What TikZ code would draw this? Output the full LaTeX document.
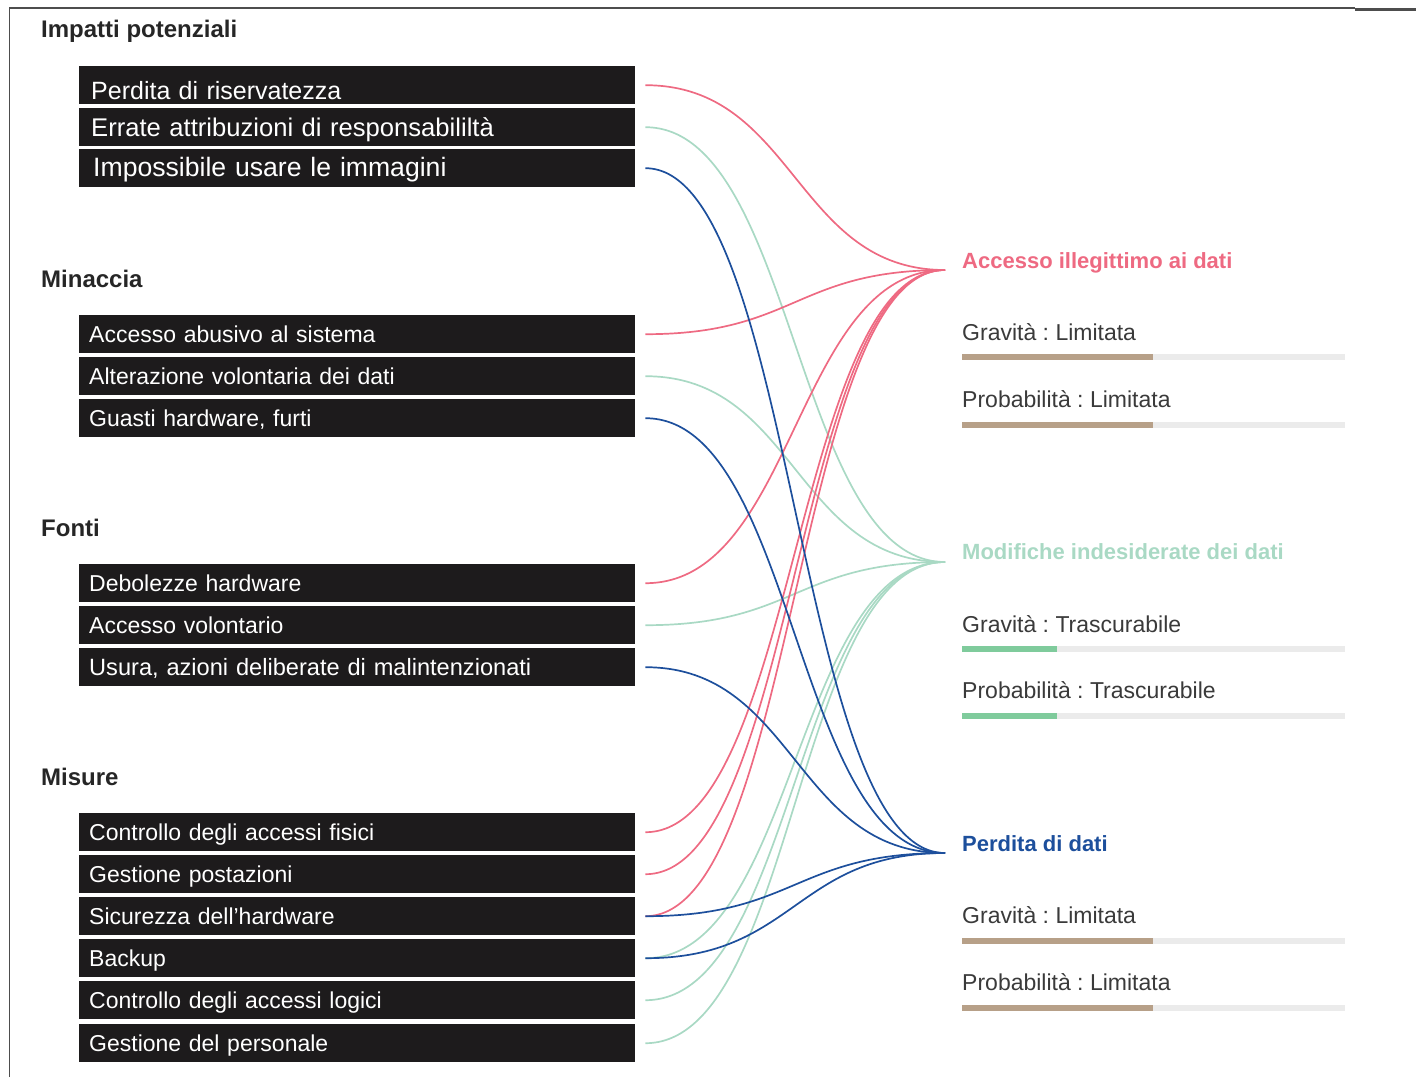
\documentclass[tikz,border=0pt]{standalone}
\usepackage{fontspec}
\setmainfont{Liberation Sans}
\frenchspacing
\definecolor{boxblack}{HTML}{1D1B1C}
\definecolor{headgray}{HTML}{262626}
\definecolor{txtgray}{HTML}{3A3A3A}
\definecolor{linkred}{HTML}{EE6A82}
\definecolor{linkgreen}{HTML}{A9D9C4}
\definecolor{linkblue}{HTML}{1D4F9C}
\definecolor{bartan}{HTML}{B7A088}
\definecolor{bargreen}{HTML}{7FCB9C}
\definecolor{bartrack}{HTML}{EBEBEB}
\definecolor{framegray}{HTML}{4D4D4D}
\begin{document}
\begin{tikzpicture}[x=1pt,y=-1pt,
  item/.style={fill=boxblack,text=white,anchor=north west,minimum width=556pt,minimum height=38pt,
    text width=536pt,inner xsep=10pt,align=left,text height=17pt,text depth=0pt,font=\fontsize{23}{27}\selectfont},
  heading/.style={anchor=base west,inner sep=0pt,text=headgray,font=\fontsize{24}{28}\selectfont\bfseries},
  title/.style={anchor=base west,inner sep=0pt,font=\fontsize{22}{26}\selectfont\bfseries},
  rating/.style={anchor=base west,inner sep=0pt,text=txtgray,font=\fontsize{23}{27}\selectfont},
  track/.style={bartrack,line width=6pt},
  level/.style={line width=6pt},
  link/.style={line width=1.7pt,shorten <=10pt}]
\useasboundingbox (0,0) rectangle (1416,1077);
% frame
\draw[framegray,line width=1.8pt] (9.5,1077) -- (9.5,8) -- (1355,8);
\draw[framegray,line width=3pt] (1355,9) -- (1416,9);

% left column
\node[heading] (hImp) at (41,37) {Impatti potenziali};
\node[item,font=\fontsize{25}{29}\selectfont,text height=29pt,inner xsep=12pt,text width=532pt] (riserv) at (79,66) {Perdita di riservatezza};
\node[item,font=\fontsize{25.6}{29}\selectfont,text height=18pt,inner xsep=12pt,text width=532pt] (errate) at (79,108) {Errate attribuzioni di responsabililtà};
\node[item,font=\fontsize{26.6}{30}\selectfont,text height=17pt,inner xsep=14pt,text width=528pt] (immagini) at (79,149) {Impossibile usare le immagini};

\node[heading] (hMin) at (41,287) {Minaccia};
\node[item] (abusivo) at (79,315) {Accesso abusivo al sistema};
\node[item] (alteraz) at (79,357) {Alterazione volontaria dei dati};
\node[item] (guasti) at (79,399) {Guasti hardware, furti};

\node[heading] (hFon) at (41,536) {Fonti};
\node[item] (debol) at (79,564) {Debolezze hardware};
\node[item] (volont) at (79,606) {Accesso volontario};
\node[item,font=\fontsize{23.6}{27}\selectfont] (usura) at (79,648) {Usura, azioni deliberate di malintenzionati};

\node[heading] (hMis) at (41,785) {Misure};
\node[item] (fisici) at (79,813) {Controllo degli accessi fisici};
\node[item] (postaz) at (79,855) {Gestione postazioni};
\node[item] (sicur) at (79,897) {Sicurezza dell'hardware};
\node[item] (backup) at (79,939) {Backup};
\node[item] (logici) at (79,981) {Controllo degli accessi logici};
\node[item] (personale) at (79,1024) {Gestione del personale};

% right column
\coordinate (acc) at (945,270);
\coordinate (mod) at (945,562);
\coordinate (perd) at (945,853);

\node[title,text=linkred] (accT) at (962,268) {Accesso illegittimo ai dati};
\node[rating] (accG) at (962,340) {Gravità : Limitata};
\draw[track] (962,357) -- (1345,357);
\draw[level,bartan] (962,357) -- (1153,357);
\node[rating] (accP) at (962,407) {Probabilità : Limitata};
\draw[track] (962,425) -- (1345,425);
\draw[level,bartan] (962,425) -- (1153,425);

\node[title,text=linkgreen] (modT) at (962,559) {Modifiche indesiderate dei dati};
\node[rating] (modG) at (962,632) {Gravità : Trascurabile};
\draw[track] (962,649) -- (1345,649);
\draw[level,bargreen] (962,649) -- (1057,649);
\node[rating] (modP) at (962,698) {Probabilità : Trascurabile};
\draw[track] (962,716) -- (1345,716);
\draw[level,bargreen] (962,716) -- (1057,716);

\node[title,text=linkblue] (perdT) at (962,851) {Perdita di dati};
\node[rating] (perdG) at (962,923) {Gravità : Limitata};
\draw[track] (962,941) -- (1345,941);
\draw[level,bartan] (962,941) -- (1153,941);
\node[rating] (perdP) at (962,990) {Probabilità : Limitata};
\draw[track] (962,1008) -- (1345,1008);
\draw[level,bartan] (962,1008) -- (1153,1008);

% links
\draw[link,linkgreen] (errate.east) .. controls +(160,0) and +(-150,0) .. (mod);
\draw[link,linkgreen] (alteraz.east) .. controls +(160,0) and +(-150,0) .. (mod);
\draw[link,linkgreen] (volont.east) .. controls +(160,0) and +(-150,0) .. (mod);
\draw[link,linkgreen] (backup.east) .. controls +(160,0) and +(-150,0) .. (mod);
\draw[link,linkgreen] (logici.east) .. controls +(160,0) and +(-150,0) .. (mod);
\draw[link,linkgreen] (personale.east) .. controls +(160,0) and +(-150,0) .. (mod);

\draw[link,linkred] (riserv.east) .. controls +(160,0) and +(-150,0) .. (acc);
\draw[link,linkred] (abusivo.east) .. controls +(160,0) and +(-150,0) .. (acc);
\draw[link,linkred] (debol.east) .. controls +(160,0) and +(-150,0) .. (acc);
\draw[link,linkred] (fisici.east) .. controls +(160,0) and +(-150,0) .. (acc);
\draw[link,linkred] (postaz.east) .. controls +(160,0) and +(-150,0) .. (acc);
\draw[link,linkred] (sicur.east) .. controls +(160,0) and +(-150,0) .. (acc);

\draw[link,linkblue] (immagini.east) .. controls +(160,0) and +(-150,0) .. (perd);
\draw[link,linkblue] (guasti.east) .. controls +(160,0) and +(-150,0) .. (perd);
\draw[link,linkblue] (usura.east) .. controls +(160,0) and +(-150,0) .. (perd);
\draw[link,linkblue] (sicur.east) .. controls +(160,0) and +(-150,0) .. (perd);
\draw[link,linkblue] (backup.east) .. controls +(160,0) and +(-150,0) .. (perd);
\end{tikzpicture}
\end{document}
